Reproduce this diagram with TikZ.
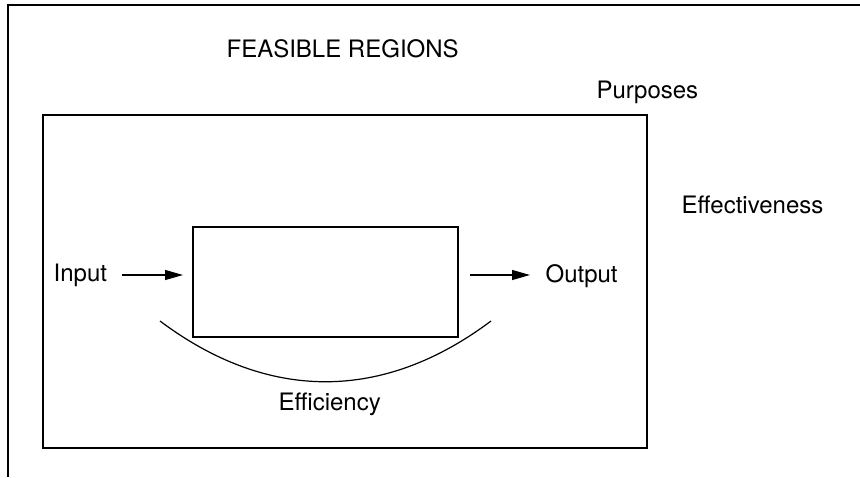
\documentclass[tikz,border=0pt]{standalone}
\usepackage{fontspec}
\setmainfont{TeX Gyre Heros}
\usetikzlibrary{arrows.meta}
\begin{document}
\begin{tikzpicture}[x=1pt,y=-1pt,line width=1.2pt,
    lbl/.style={anchor=base west,inner sep=0pt,font=\fontsize{24}{28}\selectfont},
    flow/.style={-{Triangle[length=18pt,width=10pt]}}]
      \useasboundingbox (0,0) rectangle (860,477);
      % frame and region
      \draw (8,477) -- (8,5) -- (860,5);
      \draw (43,115) rectangle (647,448);
      \node[lbl] (title) at (226,57) {FEASIBLE REGIONS};
      \node[lbl] (purp) at (596,98) {Purposes};
      \node[lbl] (effect) at (681,213) {Effectiveness};
      % process
      \node[draw,minimum width=265pt,minimum height=110pt,inner sep=0pt] (proc) at (325.5,282) {};
      \node[lbl] (in) at (53,281) {Input};
      \node[lbl] (out) at (545,282) {Output};
      \coordinate (inA) at (122,275);
      \coordinate (inB) at (183,275);
      \coordinate (outA) at (470,275);
      \coordinate (outB) at (530,275);
      \draw[flow] (inA) -- (inB);
      \draw[flow] (outA) -- (outB);
      % efficiency
      \coordinate (effL) at (160,321);
      \coordinate (effR) at (491,321);
      \draw (effL) .. controls (268,402) and (383,402) .. (effR);
      \node[lbl] (effic) at (278,410) {Efficiency};
    \end{tikzpicture}
\end{document}
